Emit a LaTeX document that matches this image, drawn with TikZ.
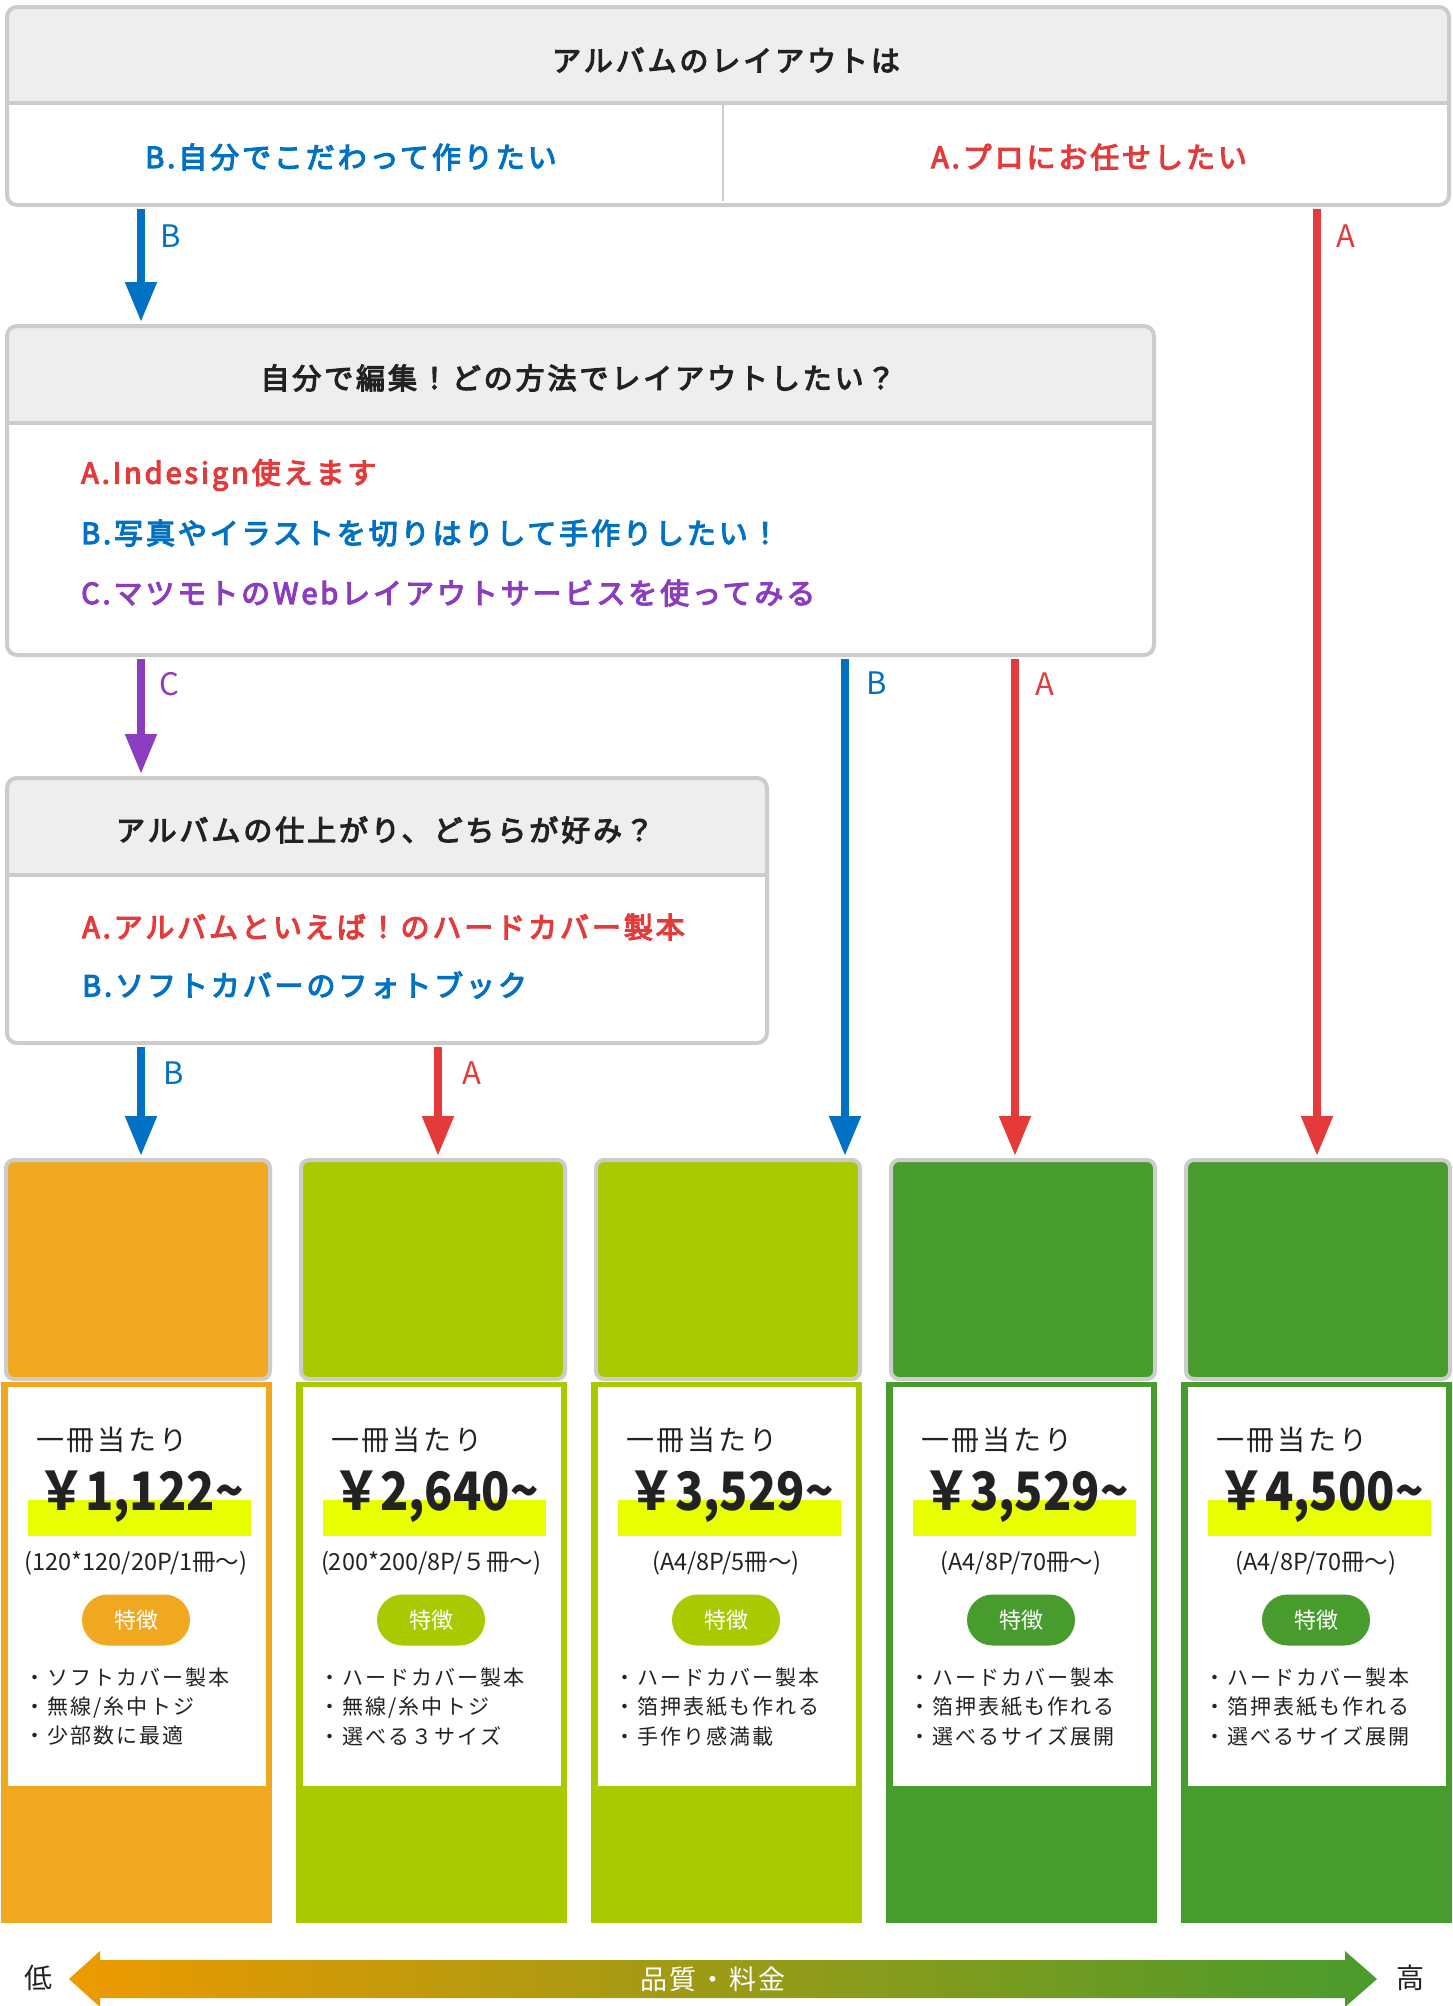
\documentclass[tikz,border=0pt]{standalone}
\usepackage{fontspec}
\setmainfont{Noto Sans CJK JP}
\newfontfamily\jpls{Noto Sans CJK JP}[LetterSpace=10]
\newfontfamily\jpmed{Noto Sans CJK JP}[LetterSpace=10, FakeBold=4]
\usetikzlibrary{arrows.meta}
\definecolor{bgray}{HTML}{CCCCCC}
\definecolor{hdrfill}{HTML}{EEEEEE}
\definecolor{txt}{HTML}{222222}
\definecolor{cblue}{HTML}{0071C3}
\definecolor{cred}{HTML}{E53A3A}
\definecolor{cpurple}{HTML}{8C3CBE}
\definecolor{corange}{HTML}{F0A820}
\definecolor{cyg}{HTML}{A9CA00}
\definecolor{cgreen}{HTML}{489B2D}
\definecolor{hl}{HTML}{E8FF00}
\definecolor{gorange}{HTML}{EE9A00}
\definecolor{gmid}{HTML}{A8C400}
\definecolor{ggreen}{HTML}{489B2D}

\newcommand\pcol[8]{%
  \node[coltop, fill=#3] (top#1) at (#2+2,1158) {};
  \fill[#3] (#2-1,1382) rectangle (#2+270,1923);
  \fill[white] (#2+6,1387) rectangle (#2+264,1786);
  \node[anchor=west, inner sep=0pt, text=txt, font=\jpls\fontsize{28}{32}\selectfont] (per#1) at (#2+34,1440) {一冊当たり};
  \fill[hl] (#2+26,1500) rectangle (#2+249,1536);
  \node[inner sep=0pt, text=txt] (price#1) at (#2+139,1497) {\scalebox{0.88}[1]{\fontsize{53}{58}\selectfont\bfseries ￥#4\textasciitilde}};
  \node[inner sep=0pt, text=txt, font=\fontsize{23.5}{26}\selectfont] (size#1) at (#2+134,1563) {#5};
  \node[pill, fill=#3] (feat#1) at (#2+134,1620) {特徴};
  \node[bullet] (ba#1) at (#2+22,1678) {・#6};
  \node[bullet] (bb#1) at (#2+22,1707) {・#7};
  \node[bullet] (bc#1) at (#2+22,1736) {・#8};
}

\begin{document}
\begin{tikzpicture}[x=1pt,y=-1pt,
  qbox/.style={draw=bgray, line width=4pt, rounded corners=10pt, fill=white,
    inner sep=0pt, anchor=north west,
    path picture={\fill[hdrfill] (path picture bounding box.north west) rectangle ([yshift=-#1]path picture bounding box.north east);}},
  sepline/.style={draw=bgray, line width=4pt},
  title/.style={inner sep=0pt, text=txt, font=\jpmed\fontsize{29}{33}\selectfont},
  opt/.style={inner sep=0pt, anchor=west, font=\jpmed\fontsize{29}{33}\selectfont},
  arr/.style={line width=8pt, -{Triangle[length=40pt,width=30pt]}, shorten <=2pt, shorten >=2pt},
  albl/.style={inner sep=0pt, font=\fontsize{31}{34}\selectfont},
  coltop/.style={draw=bgray, line width=4pt, rounded corners=8pt, inner sep=0pt,
    anchor=north west, minimum width=264pt, minimum height=219pt},
  pill/.style={rounded corners=25.5pt, minimum width=108pt, minimum height=51pt,
    inner sep=0pt, text=white, font=\fontsize{22}{26}\selectfont},
  bullet/.style={anchor=west, inner sep=0pt, text=txt, font=\jpls\fontsize{21}{26}\selectfont}
]
\useasboundingbox (0,0) rectangle (1452,2006);
\fill[white] (0,0) rectangle (1452,2006);

% ---- question 1
\node[qbox=98pt, minimum width=1442pt, minimum height=198pt] (q1) at (5,5) {};
\draw[sepline] (5,103) -- (1447,103);
\draw[bgray, line width=2pt] (723,105) -- (723,201);
\node[title] (q1t) at (726,60) {アルバムのレイアウトは};
\node[opt, anchor=center, text=cblue] (q1b) at (351,157) {B.自分でこだわって作りたい};
\node[opt, anchor=center, text=cred] (q1a) at (1089,157) {A.プロにお任せしたい};

% ---- question 2
\node[qbox=99pt, minimum width=1147pt, minimum height=329pt] (q2) at (5,324) {};
\draw[sepline] (5,423) -- (1152,423);
\node[title] (q2t) at (578,378) {自分で編集！どの方法でレイアウトしたい？};
\node[opt, text=cred] (q2a) at (81,475) {A.Indesign使えます};
\node[opt, text=cblue] (q2b) at (81,533) {B.写真やイラストを切りはりして手作りしたい！};
\node[opt, text=cpurple] (q2c) at (81,593) {C.マツモトのWebレイアウトサービスを使ってみる};

% ---- question 3
\node[qbox=99pt, minimum width=760pt, minimum height=265pt] (q3) at (5,776) {};
\draw[sepline] (5,875) -- (765,875);
\node[title] (q3t) at (385,830) {アルバムの仕上がり、どちらが好み？};
\node[opt, text=cred] (q3a) at (82,927) {A.アルバムといえば！のハードカバー製本};
\node[opt, text=cblue] (q3b) at (82,985) {B.ソフトカバーのフォトブック};

% ---- columns
\pcol{1}{2}{corange}{1,122}{(120*120/20P/1冊〜)}{ソフトカバー製本}{無線/糸中トジ}{少部数に最適}
\pcol{2}{297}{cyg}{2,640}{(200*200/8P/５冊〜)}{ハードカバー製本}{無線/糸中トジ}{選べる３サイズ}
\pcol{3}{592}{cyg}{3,529}{(A4/8P/5冊〜)}{ハードカバー製本}{箔押表紙も作れる}{手作り感満載}
\pcol{4}{887}{cgreen}{3,529}{(A4/8P/70冊〜)}{ハードカバー製本}{箔押表紙も作れる}{選べるサイズ展開}
\pcol{5}{1182}{cgreen}{4,500}{(A4/8P/70冊〜)}{ハードカバー製本}{箔押表紙も作れる}{選べるサイズ展開}

% ---- arrow x positions
\coordinate (xa) at (141,0);
\coordinate (xb) at (438,0);
\coordinate (xc) at (845,0);
\coordinate (xd) at (1015,0);
\coordinate (xe) at (1317,0);

\draw[arr, cblue] (q1.south -| xa) -- (q2.north -| xa);
\draw[arr, cred] (q1.south -| xe) -- (top5.north -| xe);
\draw[arr, cpurple] (q2.south -| xa) -- (q3.north -| xa);
\draw[arr, cblue] (q2.south -| xc) -- (top3.north -| xc);
\draw[arr, cred] (q2.south -| xd) -- (top4.north -| xd);
\draw[arr, cblue] (q3.south -| xa) -- (top1.north -| xa);
\draw[arr, cred] (q3.south -| xb) -- (top2.north -| xb);

\node[albl, text=cblue] (l1) at (171,236) {B};
\node[albl, text=cred] (l2) at (1346,236) {A};
\node[albl, text=cpurple] (l3) at (169,684) {C};
\node[albl, text=cblue] (l4) at (877,683) {B};
\node[albl, text=cred] (l5) at (1045,684) {A};
\node[albl, text=cblue] (l6) at (174,1073) {B};
\node[albl, text=cred] (l7) at (472,1073) {A};

% ---- bottom scale arrow
\shade[left color=gorange, middle color=gmid, right color=ggreen]
  (69,1979) -- (100,1951) -- (100,1960) -- (1345,1960) -- (1345,1951) -- (1377,1979)
  -- (1345,2007) -- (1345,1998) -- (100,1998) -- (100,2007) -- cycle;
\node[inner sep=0pt, text=white, font=\jpls\fontsize{27}{30}\selectfont] (scale) at (713,1979) {品質・料金};
\node[inner sep=0pt, text=txt, font=\fontsize{28}{30}\selectfont] (low) at (38,1978) {低};
\node[inner sep=0pt, text=txt, font=\fontsize{28}{30}\selectfont] (high) at (1410,1978) {高};
\end{tikzpicture}
\end{document}
